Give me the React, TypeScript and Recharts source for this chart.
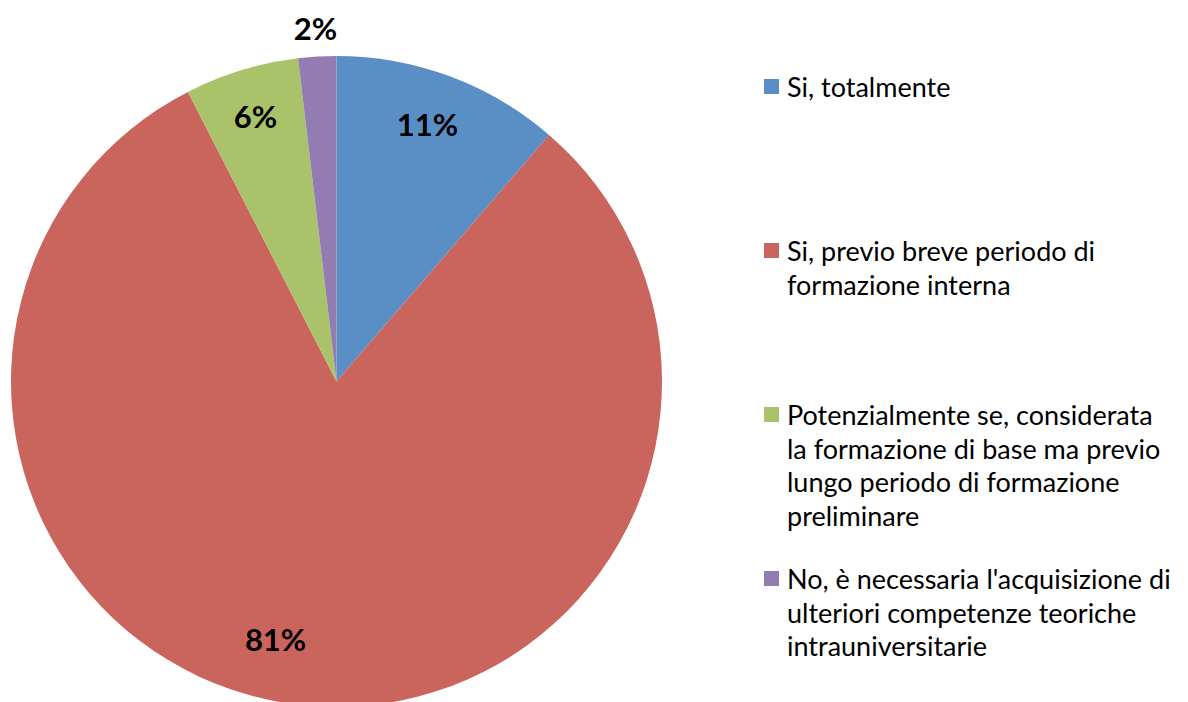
import { PieChart, Pie, Cell, Legend } from "recharts";

// risposte (53 in totale)
const categories = [
  "Si, totalmente",
  "Si, previo breve periodo di\nformazione interna",
  "Potenzialmente se, considerata\nla formazione di base ma previo\nlungo periodo di formazione\npreliminare",
  "No, è necessaria l'acquisizione di\nulteriori competenze teoriche\nintrauniversitarie",
];
const counts = [6, 43, 3, 1];
const colors = ["#5A8FC6", "#CA655E", "#AAC36B", "#927CB2"];

// where Excel's "best fit" put each % label
const labelRadius = [0.839, 0.814, 0.852, 1.088];
const labelShift = [-0.9, 6.5, 0, 0];

const total = counts.reduce((a, b) => a + b, 0);
const data = categories.map((name, i) => ({ name, value: counts[i] }));

const FONT = "Lato, 'Open Sans', sans-serif";
const RAD = Math.PI / 180;

const renderLabel = (props: any) => {
  const { cx, cy, outerRadius, midAngle, index, value } = props;
  const r = outerRadius * labelRadius[index];
  const a = (midAngle - labelShift[index]) * RAD;
  const x = cx + r * Math.cos(-a);
  const y = cy + r * Math.sin(-a);
  return (
    <text
      x={x}
      y={y}
      fill="#000"
      textAnchor="middle"
      dominantBaseline="central"
      fontFamily={FONT}
      fontWeight={700}
      fontSize={31}
    >
      {Math.round((value / total) * 100)}%
    </text>
  );
};

const renderLegend = (props: any) => {
  const { payload } = props;
  return (
    <div style={{ position: "relative", width: 420, height: 640 }}>
      {payload.map((entry: any) => {
        const i = categories.indexOf(entry.value);
        return (
          <div
            key={entry.value}
            style={{
              position: "absolute",
              left: 0,
              top: i * 164,
              display: "flex",
              alignItems: "flex-start",
              fontFamily: FONT,
              fontSize: 27,
              lineHeight: "33.5px",
              color: "#000",
              whiteSpace: "nowrap",
            }}
          >
            <span
              style={{
                display: "inline-block",
                flex: "none",
                width: 15,
                height: 15,
                marginTop: 9,
                marginRight: 8,
                background: colors[i],
              }}
            />
            <span style={{ whiteSpace: "pre" }}>{entry.value}</span>
          </div>
        );
      })}
    </div>
  );
};

export default function App() {
  return (
    <div style={{ position: "absolute", left: 0, top: 0, width: 1188, height: 702, background: "#fff", overflow: "hidden" }}>
      <PieChart width={1188} height={702} margin={{ top: 0, right: 0, bottom: 0, left: 0 }}>
        <Pie
          data={data}
          dataKey="value"
          nameKey="name"
          cx={336.5}
          cy={381.5}
          outerRadius={325.5}
          startAngle={90}
          endAngle={-270}
          stroke="none"
          label={renderLabel}
          labelLine={false}
          isAnimationActive={false}
        >
          {data.map((d, i) => (
            <Cell key={d.name} fill={colors[i]} />
          ))}
        </Pie>
        <Legend
          content={renderLegend}
          layout="vertical"
          wrapperStyle={{ position: "absolute", left: 764, top: 70, width: 420 }}
        />
      </PieChart>
    </div>
  );
}
